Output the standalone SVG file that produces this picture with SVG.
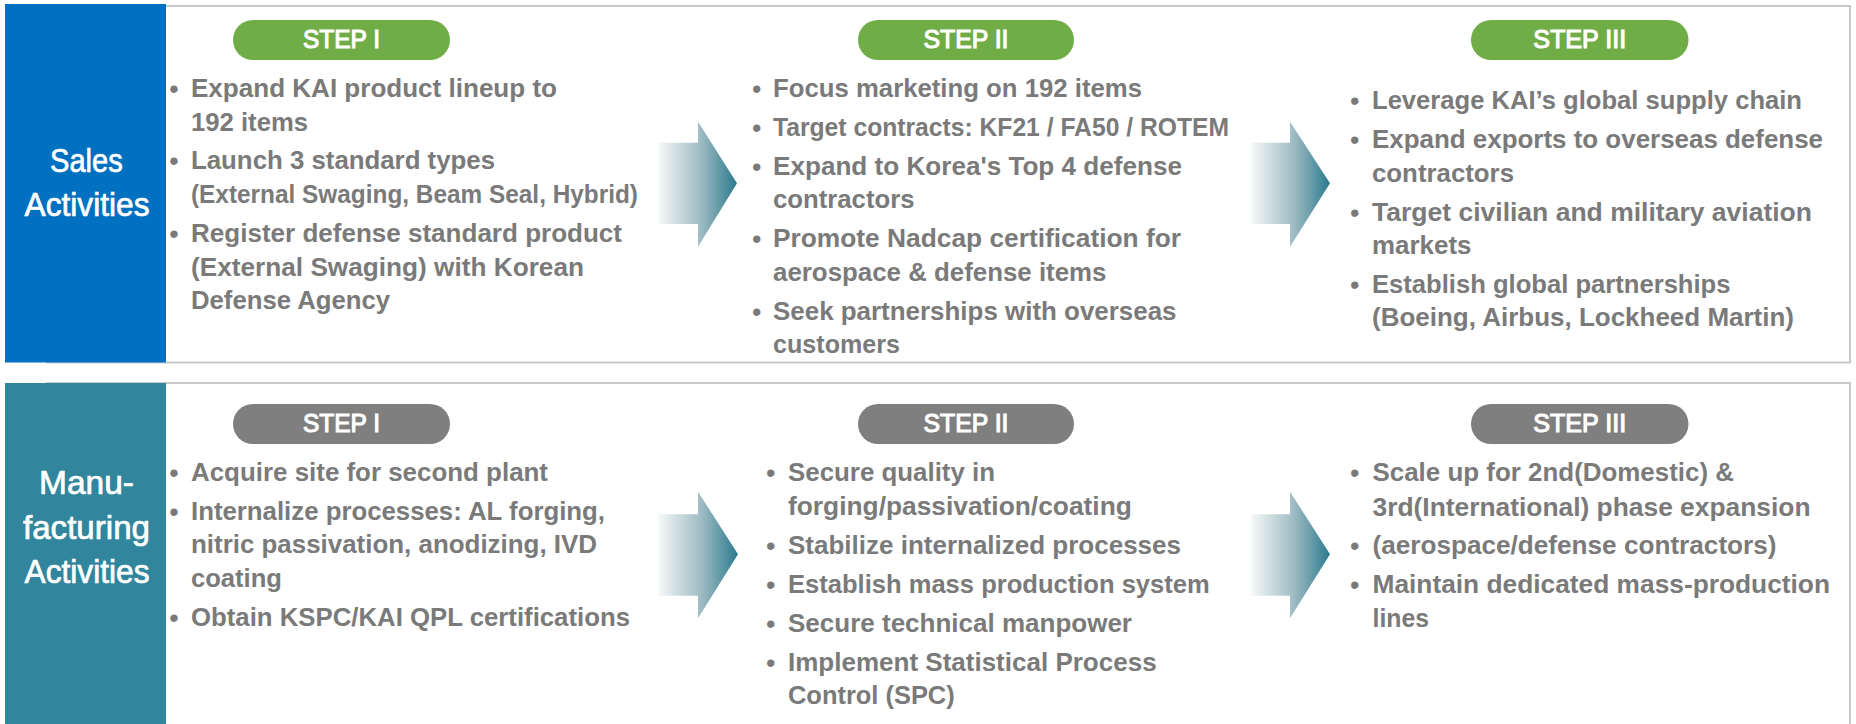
<svg xmlns="http://www.w3.org/2000/svg" width="1856" height="724" viewBox="0 0 1856 724">
<defs>
<linearGradient id="ag" x1="0" y1="0" x2="1" y2="0">
<stop offset="0" stop-color="#f7f8f8"/>
<stop offset="0.55" stop-color="#9dbac2"/>
<stop offset="1" stop-color="#2a7a8d"/>
</linearGradient>
<style>
.panel{fill:#ffffff;stroke:#c8c8c8;stroke-width:2}
.lbl{font-family:"Liberation Sans",Arial,sans-serif;font-size:33px;fill:#ffffff;stroke:#ffffff;stroke-width:0.7;text-anchor:middle}
.pg{fill:#70ad47}
.pk{fill:#7f7f7f}
.pt{font-family:"Liberation Sans",Arial,sans-serif;font-size:25px;fill:#ffffff;stroke:#ffffff;stroke-width:1.1;text-anchor:middle}
.b{font-family:"Liberation Sans",Arial,sans-serif;font-size:25px;font-weight:bold;fill:#7a7a7a}
.d{font-family:"Liberation Sans",Arial,sans-serif;font-size:27px;fill:#7a7a7a}
.arr{fill:url(#ag)}
</style>
</defs>
<rect width="1856" height="724" fill="#ffffff"/>

<g id="sales-panel">
<rect class="panel" x="47" y="6" width="1803" height="356.5"/>
<rect x="5" y="4" width="161" height="358.5" fill="#0070c0"/>
<text class="lbl" x="86.4" y="172.3" textLength="72.7" lengthAdjust="spacingAndGlyphs">Sales</text>
<text class="lbl" x="87" y="215.5" textLength="125" lengthAdjust="spacingAndGlyphs">Activities</text>
</g>

<g id="mfg-panel">
<rect class="panel" x="47" y="383" width="1803" height="350"/>
<rect x="5" y="383" width="161" height="345" fill="#31859c"/>
<text class="lbl" x="86.5" y="494" textLength="95" lengthAdjust="spacingAndGlyphs">Manu-</text>
<text class="lbl" x="86.5" y="539" textLength="127" lengthAdjust="spacingAndGlyphs">facturing</text>
<text class="lbl" x="87" y="583.3" textLength="125" lengthAdjust="spacingAndGlyphs">Activities</text>
</g>

<g id="connectors">
<path class="arr" d="M658 142.7 H698 V121.7 L737 183.3 L698 246.7 V224 H658 Z"/>
<path class="arr" d="M1251 142.7 H1290 V121.7 L1330 183.3 L1290 246.7 V224 H1251 Z"/>
<path class="arr" d="M658 514.3 H698 V491.7 L738 554.3 L698 618.3 V595.7 H658 Z"/>
<path class="arr" d="M1251 514.3 H1290 V491.7 L1330 554.3 L1290 618.3 V595.7 H1251 Z"/>
</g>

<g id="sales-step1">
<rect class="pg" x="233" y="20" width="217" height="40" rx="20"/>
<text class="pt" x="341.5" y="48" textLength="77" lengthAdjust="spacingAndGlyphs">STEP I</text>
<text class="d" x="169.3" y="98">•</text>
<text class="b" x="191" y="97" textLength="366" lengthAdjust="spacingAndGlyphs">Expand KAI product lineup to</text>
<text class="b" x="191" y="131" textLength="117" lengthAdjust="spacingAndGlyphs">192 items</text>
<text class="d" x="169.3" y="170">•</text>
<text class="b" x="191" y="169" textLength="304" lengthAdjust="spacingAndGlyphs">Launch 3 standard types</text>
<text class="b" x="191" y="203" textLength="447" lengthAdjust="spacingAndGlyphs">(External Swaging, Beam Seal, Hybrid)</text>
<text class="d" x="169.3" y="242.5">•</text>
<text class="b" x="191" y="241.5" textLength="431" lengthAdjust="spacingAndGlyphs">Register defense standard product</text>
<text class="b" x="191" y="275.5" textLength="393" lengthAdjust="spacingAndGlyphs">(External Swaging) with Korean</text>
<text class="b" x="191" y="309.3" textLength="199" lengthAdjust="spacingAndGlyphs">Defense Agency</text>
</g>

<g id="sales-step2">
<rect class="pg" x="858" y="20" width="216" height="40" rx="20"/>
<text class="pt" x="966" y="48" textLength="85" lengthAdjust="spacingAndGlyphs">STEP II</text>
<text class="d" x="752" y="98">•</text>
<text class="b" x="773" y="97" textLength="369" lengthAdjust="spacingAndGlyphs">Focus marketing on 192 items</text>
<text class="d" x="752" y="137">•</text>
<text class="b" x="773" y="136" textLength="456" lengthAdjust="spacingAndGlyphs">Target contracts: KF21 / FA50 / ROTEM</text>
<text class="d" x="752" y="176">•</text>
<text class="b" x="773" y="175" textLength="409" lengthAdjust="spacingAndGlyphs">Expand to Korea's Top 4 defense</text>
<text class="b" x="773" y="208" textLength="141.5" lengthAdjust="spacingAndGlyphs">contractors</text>
<text class="d" x="752" y="248">•</text>
<text class="b" x="773" y="247" textLength="408" lengthAdjust="spacingAndGlyphs">Promote Nadcap certification for</text>
<text class="b" x="773" y="281" textLength="333.5" lengthAdjust="spacingAndGlyphs">aerospace &amp; defense items</text>
<text class="d" x="752" y="321">•</text>
<text class="b" x="773" y="320" textLength="403.5" lengthAdjust="spacingAndGlyphs">Seek partnerships with overseas</text>
<text class="b" x="773" y="353" textLength="127" lengthAdjust="spacingAndGlyphs">customers</text>
</g>

<g id="sales-step3">
<rect class="pg" x="1471" y="20" width="217.5" height="40" rx="20"/>
<text class="pt" x="1579.7" y="48" textLength="93" lengthAdjust="spacingAndGlyphs">STEP III</text>
<text class="d" x="1350" y="110">•</text>
<text class="b" x="1372" y="109" textLength="430" lengthAdjust="spacingAndGlyphs">Leverage KAI’s global supply chain</text>
<text class="d" x="1350" y="148.7">•</text>
<text class="b" x="1372" y="147.7" textLength="451" lengthAdjust="spacingAndGlyphs">Expand exports to overseas defense</text>
<text class="b" x="1372" y="181.7" textLength="142" lengthAdjust="spacingAndGlyphs">contractors</text>
<text class="d" x="1350" y="221.7">•</text>
<text class="b" x="1372" y="220.7" textLength="440" lengthAdjust="spacingAndGlyphs">Target civilian and military aviation</text>
<text class="b" x="1372" y="254.3" textLength="99.5" lengthAdjust="spacingAndGlyphs">markets</text>
<text class="d" x="1350" y="293.7">•</text>
<text class="b" x="1372" y="292.7" textLength="358.5" lengthAdjust="spacingAndGlyphs">Establish global partnerships</text>
<text class="b" x="1372" y="326.3" textLength="422" lengthAdjust="spacingAndGlyphs">(Boeing, Airbus, Lockheed Martin)</text>
</g>

<g id="mfg-step1">
<rect class="pk" x="233" y="404" width="217" height="40" rx="20"/>
<text class="pt" x="341.5" y="431.7" textLength="77" lengthAdjust="spacingAndGlyphs">STEP I</text>
<text class="d" x="169.3" y="481.7">•</text>
<text class="b" x="191" y="480.7" textLength="357" lengthAdjust="spacingAndGlyphs">Acquire site for second plant</text>
<text class="d" x="169.3" y="521">•</text>
<text class="b" x="191" y="520" textLength="414" lengthAdjust="spacingAndGlyphs">Internalize processes: AL forging,</text>
<text class="b" x="191" y="553.3" textLength="406" lengthAdjust="spacingAndGlyphs">nitric passivation, anodizing, IVD</text>
<text class="b" x="191" y="586.7" textLength="91" lengthAdjust="spacingAndGlyphs">coating</text>
<text class="d" x="169.3" y="627">•</text>
<text class="b" x="191" y="626" textLength="439" lengthAdjust="spacingAndGlyphs">Obtain KSPC/KAI QPL certifications</text>
</g>

<g id="mfg-step2">
<rect class="pk" x="858" y="404" width="216" height="40" rx="20"/>
<text class="pt" x="966" y="431.7" textLength="85" lengthAdjust="spacingAndGlyphs">STEP II</text>
<text class="d" x="766" y="482">•</text>
<text class="b" x="788" y="481" textLength="207" lengthAdjust="spacingAndGlyphs">Secure quality in</text>
<text class="b" x="788" y="515" textLength="343.8" lengthAdjust="spacingAndGlyphs">forging/passivation/coating</text>
<text class="d" x="766" y="555">•</text>
<text class="b" x="788" y="554" textLength="393" lengthAdjust="spacingAndGlyphs">Stabilize internalized processes</text>
<text class="d" x="766" y="593.7">•</text>
<text class="b" x="788" y="592.7" textLength="421.7" lengthAdjust="spacingAndGlyphs">Establish mass production system</text>
<text class="d" x="766" y="632.7">•</text>
<text class="b" x="788" y="631.7" textLength="344" lengthAdjust="spacingAndGlyphs">Secure technical manpower</text>
<text class="d" x="766" y="671.7">•</text>
<text class="b" x="788" y="670.7" textLength="368.6" lengthAdjust="spacingAndGlyphs">Implement Statistical Process</text>
<text class="b" x="788" y="704.3" textLength="166.7" lengthAdjust="spacingAndGlyphs">Control (SPC)</text>
</g>

<g id="mfg-step3">
<rect class="pk" x="1471" y="404" width="217.5" height="40" rx="20"/>
<text class="pt" x="1579.7" y="431.7" textLength="93" lengthAdjust="spacingAndGlyphs">STEP III</text>
<text class="d" x="1350" y="482">•</text>
<text class="b" x="1372.5" y="481" textLength="361.5" lengthAdjust="spacingAndGlyphs">Scale up for 2nd(Domestic) &amp;</text>
<text class="b" x="1372.5" y="515.7" textLength="438" lengthAdjust="spacingAndGlyphs">3rd(International) phase expansion</text>
<text class="d" x="1350" y="555">•</text>
<text class="b" x="1372.5" y="554" textLength="404" lengthAdjust="spacingAndGlyphs">(aerospace/defense contractors)</text>
<text class="d" x="1350" y="593.7">•</text>
<text class="b" x="1372.5" y="592.7" textLength="457.5" lengthAdjust="spacingAndGlyphs">Maintain dedicated mass-production</text>
<text class="b" x="1372.5" y="626.7" textLength="56.5" lengthAdjust="spacingAndGlyphs">lines</text>
</g>
</svg>
